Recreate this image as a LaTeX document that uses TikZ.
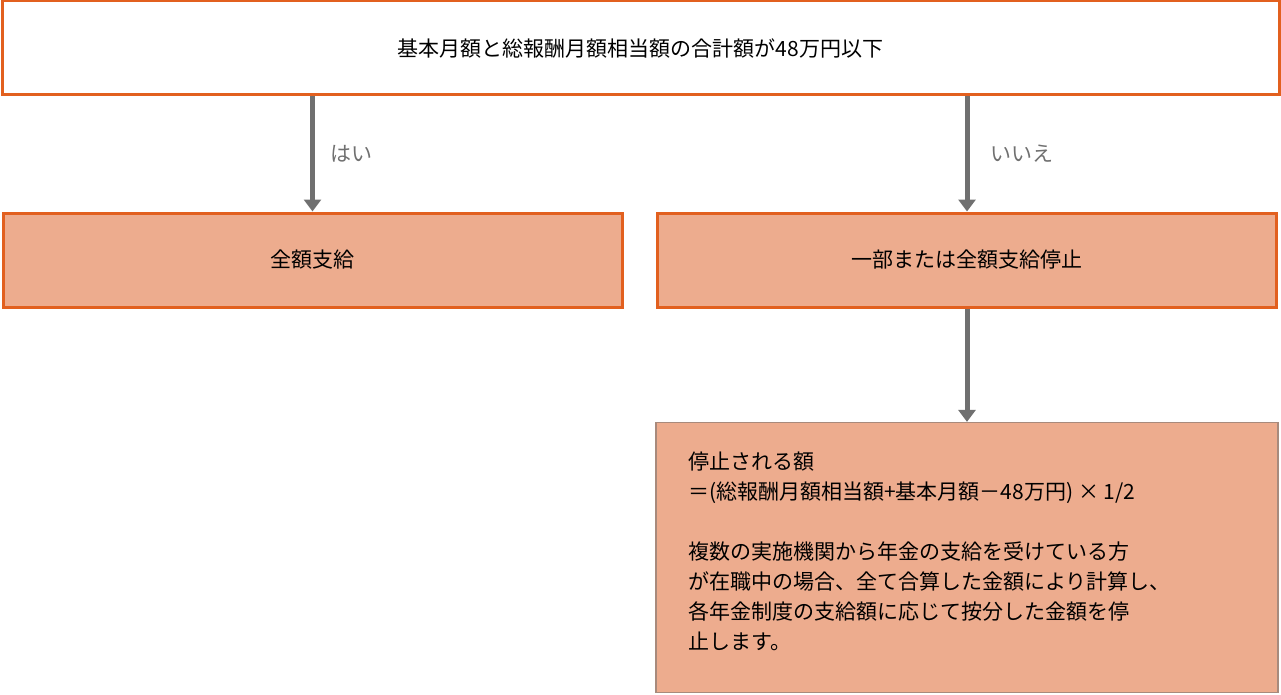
\documentclass[tikz,border=0pt]{standalone}
\usepackage{fontspec}
\setmainfont{Noto Sans CJK JP}
\usetikzlibrary{arrows.meta}
\definecolor{edge}{HTML}{E2601F}
\definecolor{salmon}{HTML}{EDAC8E}
\definecolor{arrowgray}{HTML}{707070}
\definecolor{thinedge}{HTML}{A88A7C}
\tikzset{
  box/.style={draw=edge, line width=3pt},
  flow/.style={arrowgray, line width=5pt, -{Triangle[length=12pt,width=17pt]}},
}
\begin{document}
\begin{tikzpicture}[x=1pt,y=-1pt, font=\fontsize{21}{30}\selectfont]
                
                    \useasboundingbox (0,0) rectangle (1281,695);
                    \node[box, fill=white, minimum width=1277pt, minimum height=94pt] (top) at (640.5,48) {基本月額と総報酬月額相当額の合計額が48万円以下};
                    \node[box, fill=salmon, minimum width=619pt, minimum height=94pt] (yes) at (312.5,260) {全額支給};
                    \node[box, fill=salmon, minimum width=619pt, minimum height=94pt] (no) at (967,260) {一部または全額支給停止};
                    \node[draw=thinedge, line width=1.2pt, fill=salmon, minimum width=622pt, minimum height=270pt] (calc) at (967,557.5) {};
                    \node[anchor=north west, align=left, inner sep=0pt] (note) at (688,452) {停止される額\\＝(総報酬月額相当額+基本月額－48万円) × 1/2\\[30pt]複数の実施機関から年金の支給を受けている方\\が在職中の場合、全て合算した金額により計算し、\\各年金制度の支給額に応じて按分した金額を停\\止します。};
                    
                    \draw[flow] (top.south -| yes) -- node[right=12pt] (ylab) {はい} (yes.north);
                    \draw[flow] (top.south -| no) -- node[right=18pt] (nlab) {いいえ} (no.north);
                    \draw[flow] (no.south) -- (calc.north);
                    
                \end{tikzpicture}
\end{document}
